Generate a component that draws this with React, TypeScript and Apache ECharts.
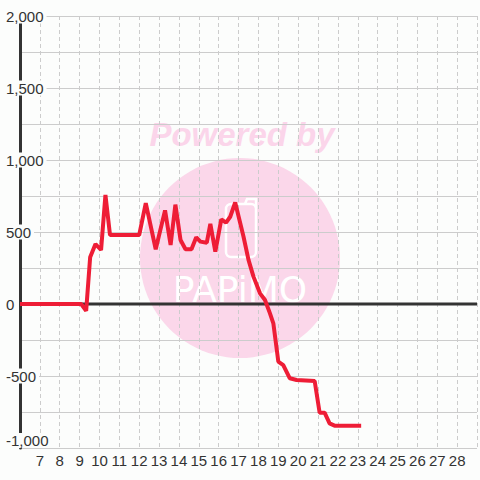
import React, { useEffect, useRef } from 'react';
import * as echarts from 'echarts';

// hour of day (x) and value (y) of the red series
const hours = [6, 9.08, 9.33, 9.53, 9.8, 10.08, 10.3, 10.53, 12.0, 12.33, 12.83, 13.3, 13.58, 13.82, 14.08, 14.33, 14.63, 14.87, 15.08, 15.4, 15.58, 15.83, 16.13, 16.37, 16.58, 16.83, 17.25, 17.5, 17.75, 18.08, 18.33, 18.58, 18.75, 19.0, 19.25, 19.58, 19.92, 20.83, 21.08, 21.33, 21.58, 21.83, 23.17];
const values = [0, 0, -47, 324, 416, 375, 757, 479, 479, 700, 380, 650, 410, 690, 444, 380, 380, 463, 433, 426, 556, 363, 588, 565, 606, 705, 467, 306, 190, 74, 28, -65, -134, -400, -424, -516, -528, -535, -755, -755, -829, -845, -845];

const xRange = [6, 29];
const xLabelRange = [7, 28];
const yRange = [-1000, 2000];
const yStep = 500;
const watermarkTitle = 'Powered by';
const watermarkBrand = 'PAPiMO';

const BG = '#fcfdfc';

export default function App() {
  const ref = useRef<HTMLDivElement>(null);
  useEffect(() => {
    if (!ref.current) return;
    const chart = echarts.init(ref.current, undefined, { renderer: 'svg' });
    const font = '"Liberation Sans", Arial, sans-serif';
    const yLabelBase = {
      align: 'left',
      margin: 17,
      color: '#333',
      fontSize: 15,
      fontFamily: font,
      backgroundColor: BG,
      padding: [0, 3, 0, 3],
    };
    chart.setOption({
      animation: false,
      backgroundColor: BG,
      grid: { left: 20, right: 0, top: 16, bottom: 32, containLabel: false },
      xAxis: {
        type: 'value',
        min: xRange[0],
        max: xRange[1],
        interval: 1,
        axisLine: { show: false, onZero: false },
        axisTick: { show: false },
        axisLabel: {
          color: '#333',
          fontSize: 15,
          fontFamily: font,
          margin: 5,
          formatter: (v: number) => (v >= xLabelRange[0] && v <= xLabelRange[1] ? String(v) : ''),
        },
        splitLine: { show: true, lineStyle: { color: '#cccccc', width: 1, type: [4, 3] } },
      },
      yAxis: [
        {
          type: 'value',
          min: yRange[0],
          max: yRange[1],
          interval: yStep,
          axisLine: { show: true, onZero: false, lineStyle: { color: '#333', width: 3 } },
          axisTick: { show: false },
          axisLabel: {
            ...yLabelBase,
            showMinLabel: false,
            formatter: (v: number) => v.toLocaleString('en-US'),
          },
          splitLine: { show: true, lineStyle: { color: '#cccccc', width: 1 } },
          minorTick: { show: false, splitNumber: 2 },
          minorSplitLine: { show: true, lineStyle: { color: '#cccccc', width: 1 } },
        },
        {
          type: 'value',
          position: 'left',
          min: yRange[0],
          max: yRange[1],
          interval: yRange[1] - yRange[0],
          axisLine: { show: false, onZero: false },
          axisTick: { show: false },
          splitLine: { show: false },
          axisLabel: {
            ...yLabelBase,
            verticalAlign: 'bottom',
            showMaxLabel: false,
            formatter: (v: number) => (v === yRange[0] ? v.toLocaleString('en-US') : ''),
          },
        },
      ],
      graphic: {
        elements: [
          {
            type: 'circle',
            z: -1,
            silent: true,
            shape: { cx: 240, cy: 258, r: 100 },
            style: { fill: '#fbd7ea' },
          },
          {
            type: 'text',
            z: -1,
            silent: true,
            x: 242,
            y: 134,
            style: {
              text: watermarkTitle,
              fill: '#fbd5ea',
              fontSize: 33,
              fontWeight: 'bold',
              fontStyle: 'italic',
              fontFamily: font,
              align: 'center',
              verticalAlign: 'middle',
            },
          },
          {
            type: 'rect',
            z: -1,
            silent: true,
            shape: { x: 226, y: 204, width: 30, height: 53, r: 5 },
            style: { fill: 'none', stroke: '#ffffff', lineWidth: 2.5 },
          },
          {
            type: 'polyline',
            z: -1,
            silent: true,
            shape: { points: [[245, 204], [247, 199], [256, 199], [256, 208]] },
            style: { fill: 'none', stroke: '#ffffff', lineWidth: 2.5 },
          },
          {
            type: 'text',
            z: -1,
            silent: true,
            x: 240,
            y: 289,
            style: {
              text: watermarkBrand,
              fill: '#ffffff',
              fontSize: 36,
              fontFamily: '"DejaVu Sans", sans-serif',
              align: 'center',
              verticalAlign: 'middle',
            },
          },
        ],
      },
      series: [
        {
          type: 'line',
          silent: true,
          z: 1,
          symbol: 'none',
          data: [[xRange[0], 0], [xRange[1], 0]],
          lineStyle: { color: '#333', width: 3 },
        },
        {
          type: 'line',
          z: 2,
          symbol: 'none',
          showSymbol: false,
          data: hours.map((h, i) => [h, values[i]]),
          lineStyle: { color: '#ee1d36', width: 4 },
        },
      ],
    });
    return () => chart.dispose();
  }, []);
  return (
    <div
      ref={ref}
      style={{ position: 'fixed', left: 0, top: 0, width: 480, height: 480 }}
    />
  );
}
